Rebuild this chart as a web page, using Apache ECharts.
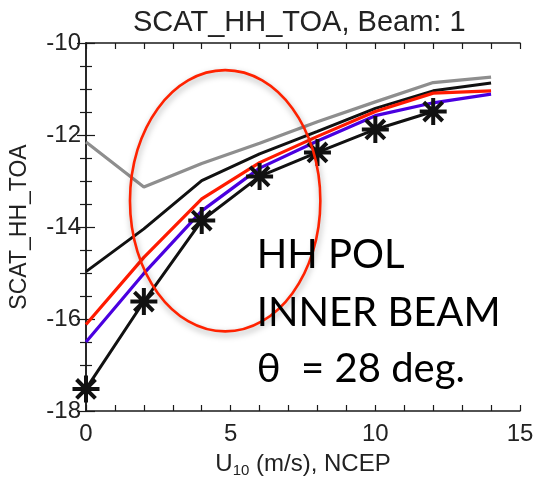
<!DOCTYPE html>
<html>
<head>
<meta charset="utf-8">
<script src="https://cdn.jsdelivr.net/npm/echarts@6/dist/echarts.min.js"></script>
<style>html,body{margin:0;padding:0;background:#fff;}#c{width:537px;height:483px;}</style>
</head>
<body>
<div id="c"></div>
<script>
var windX = [0, 2, 4, 6, 8, 10, 12, 14];
var grayLine  = [-12.15, -13.13, -12.62, -12.18, -11.71, -11.28, -10.86, -10.74];
var blackLine = [-14.97, -14.04, -12.99, -12.41, -11.92, -11.42, -11.04, -10.87];
var redLine   = [-16.12, -14.66, -13.39, -12.6, -12.03, -11.49, -11.09, -11.04];
var blueLine  = [-16.5, -15.01, -13.65, -12.72, -12.13, -11.58, -11.3, -11.11];
var starX = [0, 2, 4, 6, 8, 10, 12];
var starLine = [-17.52, -15.62, -13.86, -12.9, -12.38, -11.88, -11.49];
var xTicks = [0, 5, 10, 15];
var yTicks = [-18, -16, -14, -12, -10];
var annotLines = ['HH POL', 'INNER BEAM', 'θ  = 28 deg.'];

function pairs(xs, ys) { return xs.map(function (x, i) { return [x, ys[i]]; }); }

var FONT = '"Liberation Sans", Arial, Helvetica, sans-serif';
var chart = echarts.init(document.getElementById('c'));
var axisLine = { show: true, lineStyle: { color: '#1a1a1a', width: 1.5 } };
var asterisk = 'path://M0,-10L0,10M-10,0L10,0M-7,-7L7,7M-7,7L7,-7';

var option = {
  animation: false,
  backgroundColor: '#fff',
  title: {
    text: 'SCAT_HH_TOA, Beam: 1',
    left: 128, top: 3,
    textStyle: { fontFamily: FONT, fontSize: 29, fontWeight: 'normal', color: '#222' }
  },
  grid: { left: 85, right: 17, top: 43, bottom: 65 },
  xAxis: [{
    type: 'value', min: 0, max: 15, interval: 5,
    axisLine: axisLine,
    axisTick: { show: true, inside: true, length: 6, lineStyle: { color: '#1a1a1a', width: 1.2 } },
    minorTick: { show: true, splitNumber: 5, length: 6, lineStyle: { color: '#1a1a1a', width: 1.2 } },
    splitLine: { show: false },
    axisLabel: { margin: 11, fontFamily: FONT, fontSize: 24, color: '#222',
      formatter: function (v) { return xTicks.indexOf(v) >= 0 ? String(v) : ''; } },
    name: '{a|U}{s|10}{a| (m/s), NCEP}',
    nameLocation: 'middle', nameGap: 40,
    nameTextStyle: { rich: {
      a: { fontFamily: FONT, fontSize: 24, color: '#222' },
      s: { fontFamily: FONT, fontSize: 15, color: '#222', verticalAlign: 'bottom', padding: [12, 0, 0, 0] }
    } }
  }, {
    type: 'value', min: 0, max: 15, interval: 5, position: 'top',
    axisLine: axisLine,
    axisTick: { show: true, inside: true, length: 6, lineStyle: { color: '#1a1a1a', width: 1.2 } },
    minorTick: { show: true, splitNumber: 5, length: 6, lineStyle: { color: '#1a1a1a', width: 1.2 } },
    splitLine: { show: false }, axisLabel: { show: false }
  }],
  yAxis: [{
    type: 'value', min: -18, max: -10, interval: 2,
    axisLine: axisLine,
    axisTick: { show: true, inside: true, length: 9, lineStyle: { color: '#1a1a1a', width: 1.2 } },
    minorTick: { show: true, splitNumber: 4, length: 6, lineStyle: { color: '#1a1a1a', width: 1.2 } },
    splitLine: { show: false },
    axisLabel: { margin: 5, fontFamily: FONT, fontSize: 24, color: '#222',
      formatter: function (v) { return yTicks.indexOf(v) >= 0 ? String(v) : ''; } },
    name: 'SCAT_HH_TOA', nameLocation: 'middle', nameGap: 55,
    nameTextStyle: { fontFamily: FONT, fontSize: 23, color: '#222' }
  }, {
    type: 'value', min: -18, max: -10, interval: 2, position: 'right',
    axisLine: axisLine,
    axisTick: { show: true, inside: true, length: 9, lineStyle: { color: '#1a1a1a', width: 1.2 } },
    minorTick: { show: true, splitNumber: 4, length: 6, lineStyle: { color: '#1a1a1a', width: 1.2 } },
    splitLine: { show: false }, axisLabel: { show: false }
  }],
  series: [
    { type: 'line', data: pairs(windX, grayLine), showSymbol: false, lineStyle: { color: '#8e8e8e', width: 3.2 }, z: 2 },
    { type: 'line', data: pairs(windX, blackLine), showSymbol: false, lineStyle: { color: '#111', width: 3 }, z: 3 },
    { type: 'line', data: pairs(windX, redLine), showSymbol: false, lineStyle: { color: '#ff1a00', width: 3.2 }, z: 4 },
    { type: 'line', data: pairs(windX, blueLine), showSymbol: false, lineStyle: { color: '#4a00e0', width: 3.2 }, z: 5 },
    { type: 'line', data: pairs(starX, starLine), symbol: asterisk, symbolSize: 27, symbolKeepAspect: true,
      showAllSymbol: true,
      lineStyle: { color: '#111', width: 3 },
      itemStyle: { color: 'none', borderColor: '#111', borderWidth: 4 }, z: 6 }
  ]
};
chart.setOption(option);

// Annotation ellipse (in data units) and text
var ellCenter = chart.convertToPixel({ xAxisIndex: 0, yAxisIndex: 0 }, [4.81, -13.43]);
var ellEdge = chart.convertToPixel({ xAxisIndex: 0, yAxisIndex: 0 }, [4.81 + 3.29, -13.43 + 2.84]);
var textLeft = chart.convertToPixel({ xAxisIndex: 0, yAxisIndex: 0 }, [5.9, -14.5]);
var graphics = [{
  type: 'ellipse', z: 100,
  shape: { cx: ellCenter[0], cy: ellCenter[1], rx: ellEdge[0] - ellCenter[0], ry: ellCenter[1] - ellEdge[1] },
  style: { fill: 'none', stroke: '#ff2200', lineWidth: 2.6, shadowBlur: 6, shadowColor: 'rgba(0,0,0,0.35)', shadowOffsetX: 1, shadowOffsetY: 3 }
}];
var baselines = [268, 326, 382];
annotLines.forEach(function (t, i) {
  graphics.push({
    type: 'text', z: 101,
    x: textLeft[0], y: baselines[i] - 13,
    style: { text: t, fontFamily: 'Lato, "Open Sans", sans-serif', fontSize: 40, fill: '#000', verticalAlign: 'middle', textVerticalAlign: 'middle' }
  });
});
chart.setOption({ graphic: graphics });
</script>
</body>
</html>
